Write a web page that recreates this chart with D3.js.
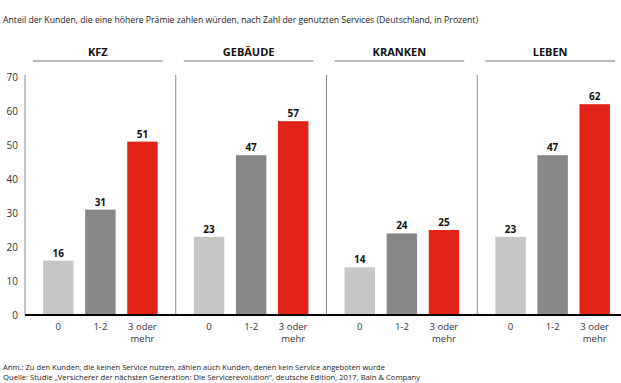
<!DOCTYPE html>
<html><head><meta charset="utf-8">
<script src="https://cdn.jsdelivr.net/npm/d3@7"></script>
<style>body{margin:0;background:#fff}svg{display:block}text{font-family:"Open Sans",sans-serif}</style>
</head><body><svg id="c" width="621" height="383"></svg>
<script>
const panels = ["KFZ","GEBÄUDE","KRANKEN","LEBEN"];
const categories = ["0","1-2","3 oder mehr"];
const values = {
  "KFZ":[16,31,51],
  "GEBÄUDE":[23,47,57],
  "KRANKEN":[14,24,25],
  "LEBEN":[23,47,62]
};
const yTicks = [0,10,20,30,40,50,60,70];
const colors = ["#c6c6c6","#878787","#e2231a"];
const title = "Anteil der Kunden, die eine höhere Prämie zahlen würden, nach Zahl der genutzten Services (Deutschland, in Prozent)";
const notes = ["Anm.: Zu den Kunden, die keinen Service nutzen, zählen auch Kunden, denen kein Service angeboten wurde",
 "Quelle: Studie „Versicherer der nächsten Generation: Die Servicerevolution“, deutsche Edition, 2017, Bain & Company"];

const svg = d3.select("#c");
const y = d3.scaleLinear().domain([0,70]).range([315,77]);
const px = d3.scaleBand().domain(panels).range([25,628]);
const bx = d3.scaleBand().domain(categories).range([0,px.bandwidth()]).paddingInner(0.277).paddingOuter(0.43);

svg.append("text").attr("x",3).attr("y",23).attr("font-size",9.2).attr("fill","#222")
  .text(title).attr("textLength",475).attr("lengthAdjust","spacingAndGlyphs");

// y axis
svg.append("line").attr("x1",25).attr("x2",25).attr("y1",75).attr("y2",315).attr("stroke","#888").attr("stroke-width",1);
svg.selectAll(".yt").data(yTicks).join("text").attr("x",18).attr("y",d=>y(d)+3.5)
  .attr("text-anchor","end").attr("font-size",10).attr("fill","#333").text(d=>d);

panels.forEach((p,i)=>{
  const x0 = px(p);
  const g = svg.append("g").attr("transform",`translate(${x0},0)`);
  if(i>0) svg.append("line").attr("x1",x0).attr("x2",x0).attr("y1",75).attr("y2",315).attr("stroke","#888");
  const lx1 = 8, lx2 = Math.min(px.bandwidth()-13, 621-x0);
  g.append("line").attr("x1",lx1).attr("x2",lx2).attr("y1",61).attr("y2",61).attr("stroke","#777").attr("stroke-width",1);
  g.append("text").attr("x",(8+px.bandwidth()-13)/2).attr("y",56).attr("text-anchor","middle")
    .attr("font-size",11).attr("font-weight","bold").attr("fill","#111").text(p);
  g.selectAll("rect").data(values[p]).join("rect")
    .attr("x",(d,j)=>bx(categories[j])).attr("width",bx.bandwidth())
    .attr("y",d=>y(d)).attr("height",d=>y(0)-y(d)).attr("fill",(d,j)=>colors[j]);
  g.selectAll(".v").data(values[p]).join("text")
    .attr("x",(d,j)=>bx(categories[j])+bx.bandwidth()/2).attr("y",d=>y(d)-4)
    .attr("text-anchor","middle").attr("font-size",10).attr("font-weight","bold").attr("fill","#111").text(d=>d);
  categories.forEach((c,j)=>{
    const t = g.append("text").attr("x",bx(c)+bx.bandwidth()/2).attr("text-anchor","middle")
      .attr("font-size",9.5).attr("fill","#333");
    const parts = c==="3 oder mehr" ? ["3 oder","mehr"] : [c];
    parts.forEach((s,k)=>t.append("tspan").attr("x",bx(c)+bx.bandwidth()/2).attr("y",330+k*12).text(s));
  });
});
// baseline
svg.append("line").attr("x1",25).attr("x2",621).attr("y1",315).attr("y2",315).attr("stroke","#000").attr("stroke-width",2.2);

svg.selectAll(".n").data(notes).join("text").attr("x",3).attr("y",(d,i)=>369.5+i*10)
  .attr("font-size",7.8).attr("fill","#222").text(d=>d)
  .attr("textLength",(d,i)=>i===0?382:417).attr("lengthAdjust","spacingAndGlyphs");
</script></body></html>
